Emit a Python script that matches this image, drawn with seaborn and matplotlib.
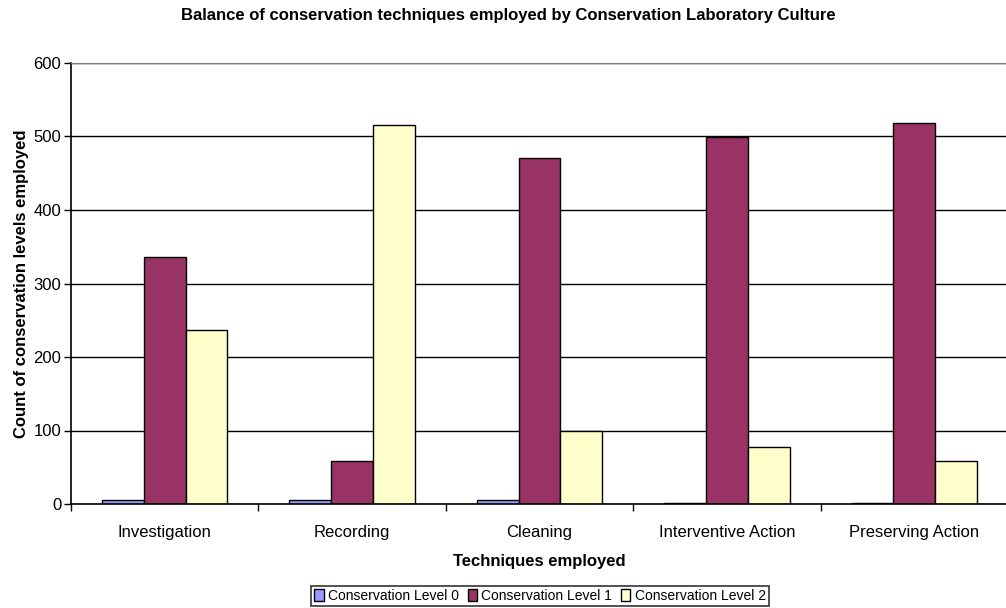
import pandas as pd
import seaborn as sns
import matplotlib.pyplot as plt
from matplotlib.ticker import FixedLocator

# values
techniques = ["Investigation", "Recording", "Cleaning", "Interventive Action", "Preserving Action"]
level0 = [6, 6, 6, 2, 2]
level1 = [336, 58, 471, 499, 518]
level2 = [237, 515, 100, 78, 58]
levels = ["Conservation Level 0", "Conservation Level 1", "Conservation Level 2"]
colours = ["#9999FF", "#993366", "#FFFFCC"]

rows = []
for name, vals in zip(levels, [level0, level1, level2]):
    for t, v in zip(techniques, vals):
        rows.append({"technique": t, "level": name, "count": v})
df = pd.DataFrame(rows)

sns.set_style("white")
plt.rcParams["font.family"] = ["Liberation Sans", "DejaVu Sans"]
plt.rcParams["text.color"] = "black"
plt.rcParams["axes.labelcolor"] = "black"
plt.rcParams["xtick.color"] = "black"
plt.rcParams["ytick.color"] = "black"

fig = plt.figure(figsize=(10.06, 6.08), dpi=100)
ax = fig.add_axes([71 / 1006, 1 - 504 / 608, (1006 - 71) / 1006 + 0.002, (504 - 63) / 608])

sns.barplot(data=df, x="technique", y="count", hue="level", palette=colours, saturation=1,
            edgecolor="black", linewidth=1, width=0.67, ax=ax, legend=True)

ax.set_xlim(-0.5, 4.5)
ax.set_ylim(0, 600)
ax.set_yticks(range(0, 601, 100))
ax.yaxis.grid(True, color="black", linewidth=1)
ax.set_axisbelow(True)

# tick marks sit between the categories
ax.xaxis.set_minor_locator(FixedLocator([-0.5, 0.5, 1.5, 2.5, 3.5, 4.5]))
ax.tick_params(axis="x", which="major", length=0, pad=15, labelsize=12)
ax.tick_params(axis="x", which="minor", length=5, width=1, color="black", direction="out", bottom=True)
ax.tick_params(axis="y", length=5, width=1, color="black", direction="out", left=True, labelsize=12, pad=2)

for s in ["left", "bottom"]:
    ax.spines[s].set_color("black")
    ax.spines[s].set_linewidth(1.2)
ax.spines["top"].set_color("#808080")
ax.spines["right"].set_visible(False)

ax.set_xlabel("Techniques employed", fontsize=12, fontweight="bold", labelpad=10)
ax.set_ylabel("Count of conservation levels employed", fontsize=12, fontweight="bold", labelpad=3)
fig.text(508 / 1006, 1 - 15.5 / 608,
         "Balance of conservation techniques employed by Conservation Laboratory Culture",
         fontsize=12, fontweight="bold", ha="center", va="center")

handles, labels = ax.get_legend_handles_labels()
ax.get_legend().remove()
leg = fig.legend(handles, labels, loc="center", bbox_to_anchor=(540 / 1006, 1 - 596 / 608), ncol=3,
                 fontsize=10, frameon=True, fancybox=False, edgecolor="black",
                 handlelength=0.7, handleheight=0.9, handletextpad=0.3, columnspacing=0.6,
                 borderpad=0.25, borderaxespad=0)
leg.get_frame().set_linewidth(1.2)

fig.savefig("out.png", dpi=100)
